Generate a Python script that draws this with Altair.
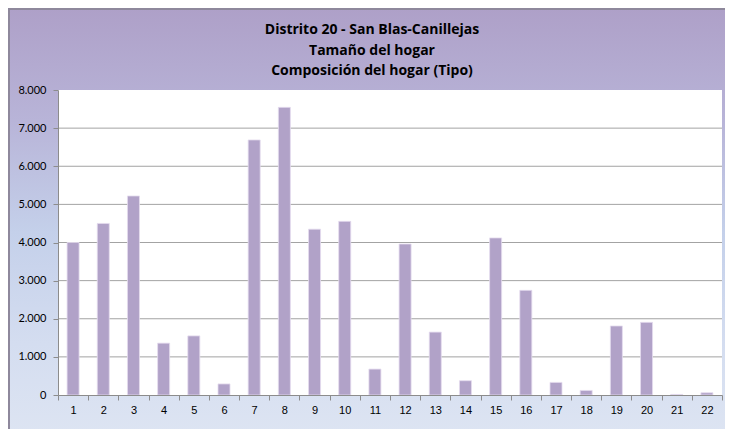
import altair as alt
import pandas as pd

categories = [str(i) for i in range(1, 23)]
values = [4000, 4500, 5220, 1360, 1550, 290, 6690, 7545, 4350, 4555, 680,
          3960, 1650, 375, 4120, 2745, 330, 120, 1810, 1905, 15, 60]
grid_values = [1000, 2000, 3000, 4000, 5000, 6000, 7000]
y_ticks = [0, 1000, 2000, 3000, 4000, 5000, 6000, 7000, 8000]
title_lines = ["Distrito 20 - San Blas-Canillejas",
               "Tamaño del hogar",
               "Composición del hogar (Tipo)"]

W, H = 664, 305
PAD = {"left": 50, "top": 82, "right": 3, "bottom": 34}

df = pd.DataFrame({"cat": categories, "val": values})
grid_df = pd.DataFrame({"val": grid_values})
one = pd.DataFrame({"a": [0]})

y_scale = alt.Scale(domain=[0, 8000], nice=False)
y_axis = alt.Axis(title=None, values=y_ticks, grid=False, labelOverlap=False,
                  labelExpr="replace(format(datum.value, ','), ',', '.')",
                  domainColor="#8c8c8c", tickColor="#8c8c8c", tickSize=5,
                  labelPadding=7, labelFont="Lato", labelFontSize=11,
                  labelColor="black", zindex=1)

gradient = alt.LinearGradient(
    gradient="linear", x1=0, y1=0, x2=0, y2=1,
    stops=[
        alt.GradientStop(color="#aea0c8", offset=0.0),
        alt.GradientStop(color="#b8b4d8", offset=0.25),
        alt.GradientStop(color="#c4d0ea", offset=0.5),
        alt.GradientStop(color="#d4ddf0", offset=0.75),
        alt.GradientStop(color="#dfe6f3", offset=1.0),
    ],
)

bg = alt.Chart(one).mark_rect(fill=gradient, stroke="#8e889c", strokeWidth=2).encode(
    x=alt.value(-PAD["left"] + 1), x2=alt.value(W + 20),
    y=alt.value(-PAD["top"] + 1), y2=alt.value(H + 60),
)

plot_bg = alt.Chart(one).mark_rect(fill="white").encode(
    x=alt.value(0), x2=alt.value(W), y=alt.value(0), y2=alt.value(H),
)

grid = alt.Chart(grid_df).mark_rule(color="#a3a3a3", strokeWidth=1).encode(
    y=alt.Y("val:Q", scale=y_scale, axis=y_axis),
)

bars = alt.Chart(df).mark_bar(size=12, color="#b1a2c8", stroke="#e4dcef", strokeWidth=0.8).encode(
    x=alt.X("cat:O", sort=categories,
            scale=alt.Scale(paddingInner=0, paddingOuter=0),
            axis=alt.Axis(title=None, labelAngle=0, tickBand="extent",
                          domainColor="#8c8c8c", tickColor="#8c8c8c", tickSize=5,
                          labelPadding=4, labelFont="Liberation Sans", labelFontSize=11,
                          labelColor="black", zindex=1)),
    y=alt.Y("val:Q", scale=y_scale, axis=y_axis),
)

chart = alt.layer(bg, plot_bg, grid, bars).properties(
    width=W, height=H,
    autosize=alt.AutoSizeParams(type="none"),
    padding=PAD,
    background="white",
    title=alt.TitleParams(text=title_lines, font="Open Sans", fontSize=14, fontWeight="bold",
                          anchor="middle", frame="group", dx=-18, offset=-70,
                          lineHeight=20.5, color="black", zindex=1),
).configure_view(stroke=None)

chart.save("out.html", embed_options={"renderer": "svg", "actions": False})
